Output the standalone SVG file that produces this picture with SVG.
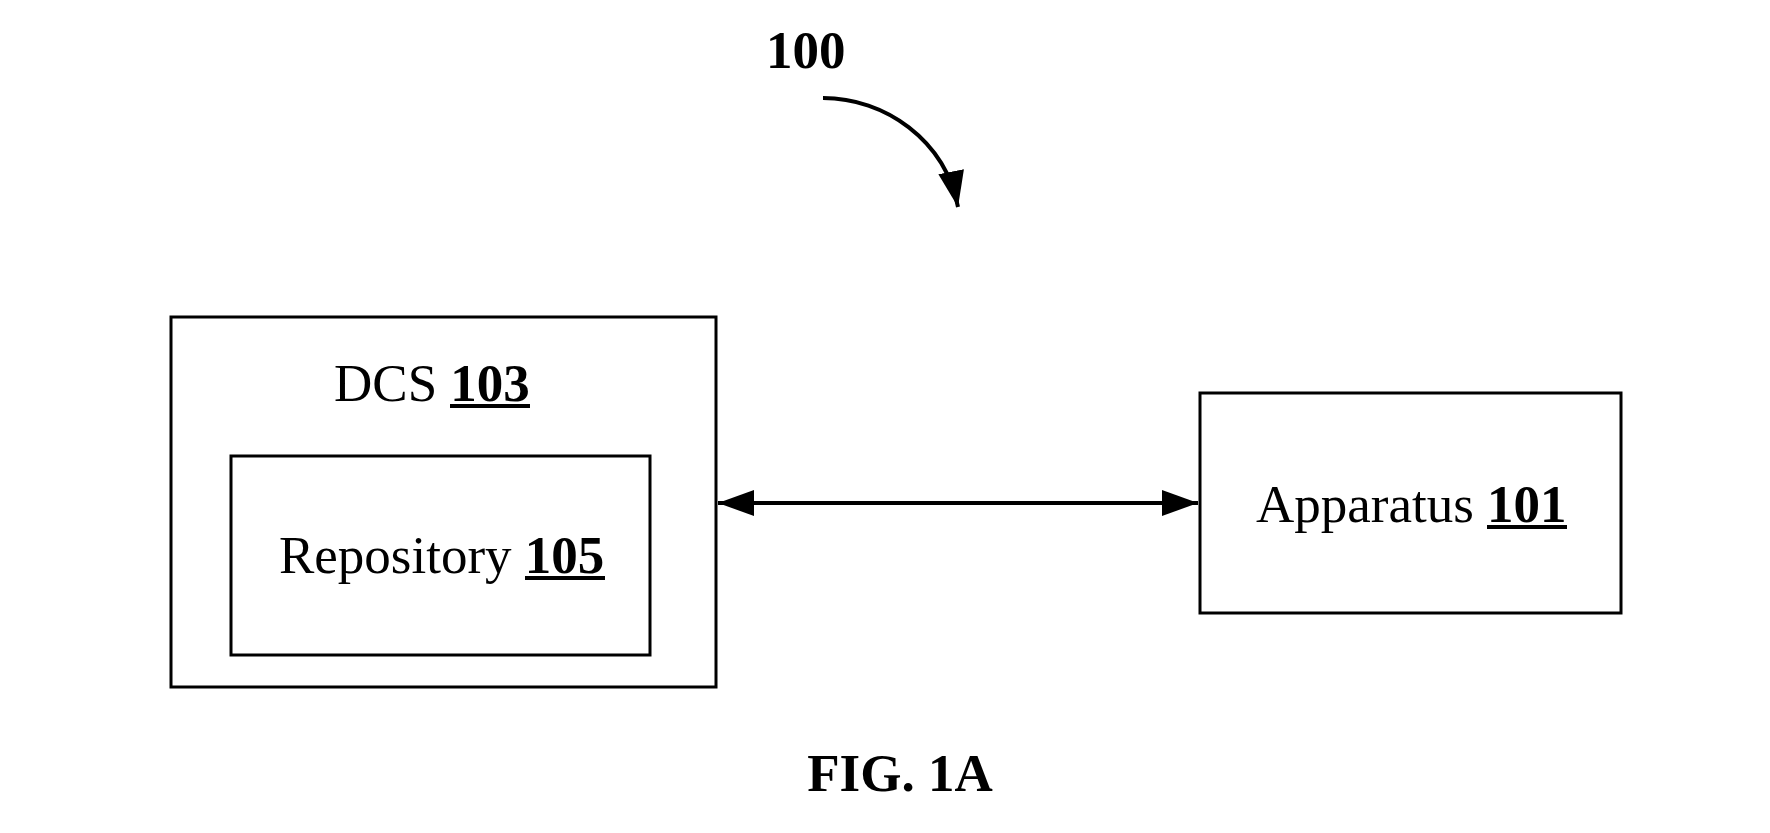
<svg xmlns="http://www.w3.org/2000/svg" width="1770" height="833" viewBox="0 0 1770 833">
<style>
.box{fill:none;stroke:#000;stroke-width:3}
.t{font-family:"Liberation Serif","Times New Roman",serif;font-size:53px;fill:#000}
.b{font-weight:bold}
.ul{stroke:#000;stroke-width:4}
.conn{fill:none;stroke:#000;stroke-width:4}
</style>
<defs>
<marker id="ah" markerUnits="userSpaceOnUse" markerWidth="38" markerHeight="28" refX="36" refY="13" orient="auto-start-reverse" viewBox="0 0 38 28">
<path d="M0,0 L36,13 L0,26 z" fill="#000"/>
</marker>
</defs>
<rect width="1770" height="833" fill="#fff"/>
<g id="label-100">
<text class="t b" x="766" y="68">100</text>
</g>
<g id="dcs-103">
<rect class="box" x="171" y="317" width="545" height="370"/>
<text class="t" x="334" y="401">DCS <tspan class="b">103</tspan></text>
<line class="ul" x1="450" y1="406" x2="530" y2="406"/>
</g>
<g id="repository-105">
<rect class="box" x="231" y="456" width="419" height="199"/>
<text class="t" x="279" y="573">Repository <tspan class="b">105</tspan></text>
<line class="ul" x1="525" y1="578" x2="605" y2="578"/>
</g>
<g id="apparatus-101">
<rect class="box" x="1200" y="393" width="421" height="220"/>
<text class="t" x="1256" y="522">Apparatus <tspan class="b">101</tspan></text>
<line class="ul" x1="1487" y1="527" x2="1567" y2="527"/>
</g>
<g id="connectors">
<line class="conn" x1="718" y1="503" x2="1198" y2="503" marker-start="url(#ah)" marker-end="url(#ah)"/>
<path class="conn" d="M823,98 C885,98 945,140 958,207" marker-end="url(#ah)"/>
</g>
<g id="caption">
<text class="t b" x="900" y="791" text-anchor="middle">FIG. 1A</text>
</g>
</svg>
